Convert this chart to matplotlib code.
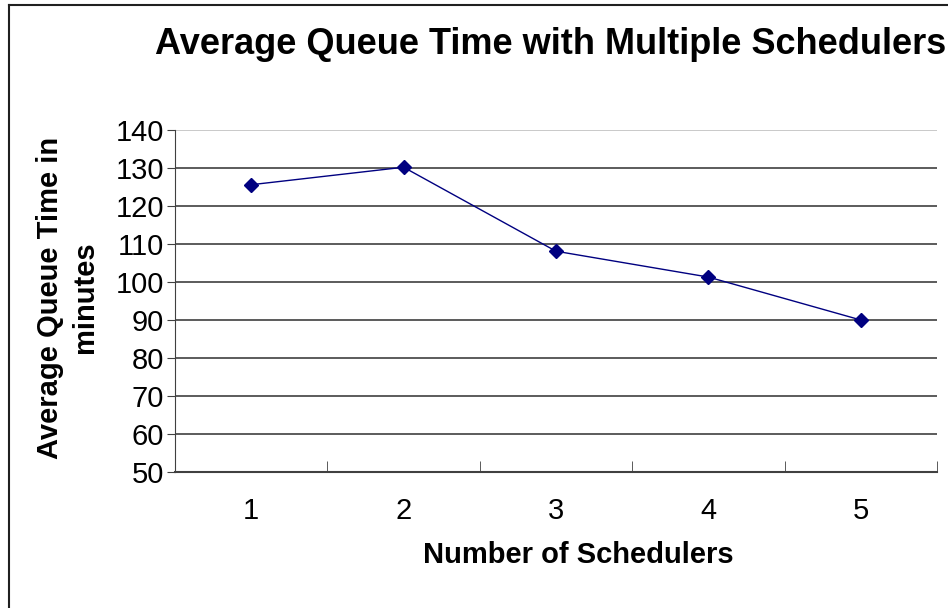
import matplotlib
matplotlib.use("Agg")
import matplotlib.pyplot as plt
from matplotlib.lines import Line2D

# number of schedulers vs average queue time
schedulers = [1, 2, 3, 4, 5]
queue_time = [125.6, 130.2, 108.1, 101.3, 90.0]
y_ticks = [50, 60, 70, 80, 90, 100, 110, 120, 130, 140]

plt.rcParams['font.family'] = ['Liberation Sans', 'DejaVu Sans']

fig = plt.figure(figsize=(9.48, 6.08), dpi=100)
ax = fig.add_axes([175/948, 1-472/608, (937-175)/948, (472-130)/608])

for v in y_ticks[1:]:
    ax.axhline(v, color='#c0c0c0' if v == 140 else '#404040', lw=1.2, zorder=1)

ax.plot(schedulers, queue_time, color='#000080', lw=1, marker='D',
        markersize=7, markerfacecolor='#000080', markeredgecolor='#000080', zorder=3)

ax.set_xlim(0.5, 5.5)
ax.set_ylim(50, 140)
ax.set_yticks(y_ticks)
ax.set_yticklabels([str(v) for v in y_ticks], fontsize=21)
ax.set_xticks(schedulers)
ax.set_xticklabels([str(v) for v in schedulers], fontsize=21)
ax.tick_params(axis='x', which='major', length=0, pad=18)
ax.set_xticks([0.5, 1.5, 2.5, 3.5, 4.5, 5.5], minor=True)
ax.tick_params(axis='x', which='minor', direction='in', length=8, color='#404040')
ax.tick_params(axis='y', direction='out', length=6, color='#404040', pad=2)

for s in ['top', 'right']:
    ax.spines[s].set_visible(False)
ax.spines['left'].set_color('#404040')
ax.spines['bottom'].set_color('#404040')
ax.spines['bottom'].set_linewidth(1.5)

ax.set_xlabel("Number of Schedulers", fontsize=21, fontweight='bold')
ax.xaxis.set_label_coords((578-175)/762, -69/342)
ax.set_ylabel("Average Queue Time in\nminutes", fontsize=21, fontweight='bold',
              linespacing=1.3)
ax.yaxis.set_label_coords(-(175-99)/762, 0.51)

fig.text(551/948, 1-45/608, "Average Queue Time with Multiple Schedulers",
         fontsize=26, fontweight='bold', ha='center', va='center')

# outer frame (chart area border)
fig.add_artist(Line2D([9/948, 1.0], [1-5/608, 1-5/608], color='#202020', lw=1.5))
fig.add_artist(Line2D([9/948, 9/948], [0.0, 1-5/608], color='#202020', lw=1.5))

plt.savefig("out.png", dpi=100)
